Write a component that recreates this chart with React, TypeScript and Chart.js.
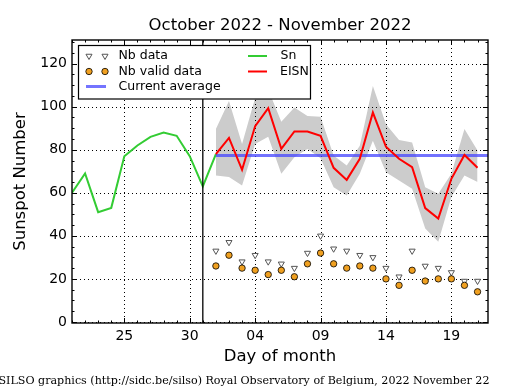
import React, { useEffect, useRef } from "react";
import { Chart, registerables } from "chart.js";

Chart.register(...registerables);

const TITLE = "October 2022 - November 2022";
const X_LABEL = "Day of month";
const Y_LABEL = "Sunspot Number";
const FOOTER = "SILSO graphics (http://sidc.be/silso) Royal Observatory of Belgium, 2022 November 22";

const ORIGIN = "2022-10-21";

const snDates = [
  "2022-10-21", "2022-10-22", "2022-10-23", "2022-10-24", "2022-10-25", "2022-10-26",
  "2022-10-27", "2022-10-28", "2022-10-29", "2022-10-30", "2022-10-31", "2022-11-01",
];
const snValues = [60, 69, 51, 53, 77, 82, 86, 88, 86.5, 77, 63, 78];

const eisnDates = [
  "2022-11-01", "2022-11-02", "2022-11-03", "2022-11-04", "2022-11-05", "2022-11-06", "2022-11-07",
  "2022-11-08", "2022-11-09", "2022-11-10", "2022-11-11", "2022-11-12", "2022-11-13", "2022-11-14",
  "2022-11-15", "2022-11-16", "2022-11-17", "2022-11-18", "2022-11-19", "2022-11-20", "2022-11-21",
];
const eisnValues = [78, 85.5, 70.7, 91, 99.3, 80.4, 88.5, 88.5, 86.5, 71.6, 66, 75.8, 97.3, 81.4, 75.8, 71.9, 52.9, 48, 66.5, 77.6, 71.6];
const eisnUpper = [89.6, 102.7, 82.7, 104, 108, 93, 99.6, 95.7, 95.3, 77.3, 72.7, 81.9, 109.6, 91.9, 84.5, 83.4, 62.6, 59.6, 68.8, 89.6, 79.6];
const eisnLower = [68, 67.3, 63.4, 82.7, 86, 68.8, 76.5, 80.4, 76, 62.6, 58.8, 68.8, 84.2, 69.6, 65.7, 61.9, 43.4, 37.2, 58, 68, 65];
const nbData = [33, 37, 28, 31, 28, 27, 25, 32, 40, 34, 33, 31, 30, 25, 21, 33, 26, 25, 23, 19, 19];
const nbValid = [26, 31, 25, 24, 22, 24, 21, 27, 32, 27, 25, 26, 25, 20, 17, 24, 19, 20, 20, 17, 14];

const currentAverage = 77.3;
const averageDates = ["2022-11-01", "2022-11-22"];
const splitDate = "2022-10-31";

const xTickDates = ["2022-10-25", "2022-10-30", "2022-11-04", "2022-11-09", "2022-11-14", "2022-11-19"];
const yTicks = [0, 20, 40, 60, 80, 100, 120];
const yMinorStep = 5;

const FONT = "'DejaVu Sans', sans-serif";

function dayIndex(d: string): number {
  return (Date.parse(d) - Date.parse(ORIGIN)) / 86400000;
}
function dayLabel(d: string): string {
  return d.slice(8, 10);
}

const xMin = 0;
const xMax = dayIndex("2022-11-21") + 0.8;
const yMin = -0.5;
const yMax = 131;

const C_GREEN = "#33cc33";
const C_RED = "#ff0000";
const C_BLUE = "rgba(70,70,255,0.75)";
const C_BAND = "#cccccc";
const C_ORANGE = "#f0a020";

function drawTriangleDown(ctx: CanvasRenderingContext2D, x: number, y: number, r: number) {
  const s = Math.sin(Math.PI / 3) * r;
  ctx.beginPath();
  ctx.moveTo(x, y + r);
  ctx.lineTo(x - s, y - r / 2);
  ctx.lineTo(x + s, y - r / 2);
  ctx.closePath();
  ctx.fillStyle = "#ffffff";
  ctx.fill();
  ctx.strokeStyle = "#555555";
  ctx.lineWidth = 1;
  ctx.stroke();
}
function drawCircle(ctx: CanvasRenderingContext2D, x: number, y: number, r: number) {
  ctx.beginPath();
  ctx.arc(x, y, r, 0, Math.PI * 2);
  ctx.fillStyle = C_ORANGE;
  ctx.fill();
  ctx.strokeStyle = "#000000";
  ctx.lineWidth = 0.8;
  ctx.stroke();
}

const silsoPlugin = {
  id: "silso",
  afterDatasetDraw(chart: any, args: any) {
    if (args.index !== 0) return;
    const { ctx, chartArea: a, scales } = chart;
    ctx.save();
    ctx.beginPath();
    ctx.rect(a.left, a.top, a.right - a.left, a.bottom - a.top);
    ctx.clip();
    ctx.setLineDash([1, 3]);
    ctx.strokeStyle = "#000000";
    ctx.lineWidth = 1;
    for (const d of xTickDates) {
      const x = Math.round(scales.x.getPixelForValue(dayIndex(d))) + 0.5;
      ctx.beginPath();
      ctx.moveTo(x, a.top);
      ctx.lineTo(x, a.bottom);
      ctx.stroke();
    }
    for (const v of yTicks) {
      const y = Math.round(scales.y.getPixelForValue(v)) + 0.5;
      ctx.beginPath();
      ctx.moveTo(a.left, y);
      ctx.lineTo(a.right, y);
      ctx.stroke();
    }
    ctx.restore();
  },
  afterDraw(chart: any) {
    const { ctx, chartArea: a, scales } = chart;
    const xs = scales.x;
    const ys = scales.y;
    ctx.save();

    // split line
    const sx = xs.getPixelForValue(dayIndex(splitDate));
    ctx.strokeStyle = "#000000";
    ctx.lineWidth = 1.3;
    ctx.beginPath();
    ctx.moveTo(sx, a.top);
    ctx.lineTo(sx, a.bottom);
    ctx.stroke();

    // ticks
    ctx.lineWidth = 1;
    const tick = (x1: number, y1: number, x2: number, y2: number) => {
      ctx.beginPath();
      ctx.moveTo(x1, y1);
      ctx.lineTo(x2, y2);
      ctx.stroke();
    };
    const majorX = xTickDates.map(dayIndex);
    for (let v = Math.ceil(xMin); v <= xMax; v++) {
      const x = Math.round(xs.getPixelForValue(v)) + 0.5;
      const len = majorX.includes(v) ? 5 : 2.5;
      tick(x, a.bottom, x, a.bottom - len);
      tick(x, a.top, x, a.top + len);
    }
    for (let v = 0; v <= yMax; v += yMinorStep) {
      const y = Math.round(ys.getPixelForValue(v)) + 0.5;
      const len = yTicks.includes(v) ? 5 : 2.5;
      tick(a.left, y, a.left + len, y);
      tick(a.right, y, a.right - len, y);
    }

    // frame
    ctx.lineWidth = 1.4;
    ctx.strokeRect(a.left, a.top, a.right - a.left, a.bottom - a.top);

    // legend
    const lx = 78.5, ly = 45.5, lw = 232, lh = 53.5;
    ctx.fillStyle = "#ffffff";
    ctx.fillRect(lx, ly, lw, lh);
    ctx.strokeStyle = "#000000";
    ctx.lineWidth = 1.2;
    ctx.strokeRect(lx, ly, lw, lh);
    ctx.font = `12.5px ${FONT}`;
    ctx.textBaseline = "middle";
    ctx.textAlign = "left";
    const r1 = 56, r2 = 71.5, r3 = 86.5;
    drawTriangleDown(ctx, 89, r1, 3.5);
    drawTriangleDown(ctx, 105, r1, 3.5);
    drawCircle(ctx, 89, r2, 3.2);
    drawCircle(ctx, 105, r2, 3.2);
    ctx.strokeStyle = C_BLUE;
    ctx.lineWidth = 3;
    ctx.beginPath();
    ctx.moveTo(86, r3);
    ctx.lineTo(106, r3);
    ctx.stroke();
    ctx.strokeStyle = C_GREEN;
    ctx.lineWidth = 2;
    ctx.beginPath();
    ctx.moveTo(248, r1);
    ctx.lineTo(267, r1);
    ctx.stroke();
    ctx.strokeStyle = C_RED;
    ctx.beginPath();
    ctx.moveTo(248, r2);
    ctx.lineTo(267, r2);
    ctx.stroke();
    ctx.fillStyle = "#000000";
    ctx.fillText("Nb data", 118.5, r1);
    ctx.fillText("Nb valid data", 118.5, r2);
    ctx.fillText("Current average", 118.5, r3);
    ctx.fillText("Sn", 280.5, r1);
    ctx.fillText("EISN", 280, r2);

    // title & labels
    const cx = (a.left + a.right) / 2;
    ctx.textAlign = "center";
    ctx.font = `16.5px ${FONT}`;
    ctx.fillText(TITLE, cx, 26);
    ctx.fillText(X_LABEL, cx, 357);
    ctx.save();
    ctx.translate(21, (a.top + a.bottom) / 2);
    ctx.rotate(-Math.PI / 2);
    ctx.fillText(Y_LABEL, 0, 0);
    ctx.restore();

    // footer
    ctx.textAlign = "left";
    ctx.font = `11.1px 'DejaVu Serif', serif`;
    ctx.fillText(FOOTER, -1.5, 381);

    ctx.restore();
  },
};

export default function App() {
  const ref = useRef<HTMLCanvasElement | null>(null);

  useEffect(() => {
    const canvas = ref.current;
    if (!canvas) return;
    const pts = (dates: string[], vals: number[]) => dates.map((d, i) => ({ x: dayIndex(d), y: vals[i] }));

    const chart = new Chart(canvas, {
      type: "line",
      data: {
        datasets: [
          {
            label: "EISN upper",
            data: pts(eisnDates, eisnUpper),
            borderWidth: 0,
            borderColor: "rgba(0,0,0,0)",
            backgroundColor: C_BAND,
            pointRadius: 0,
            fill: "+1",
            order: 10,
          },
          {
            label: "EISN lower",
            data: pts(eisnDates, eisnLower),
            borderWidth: 0,
            borderColor: "rgba(0,0,0,0)",
            pointRadius: 0,
            fill: false,
            order: 11,
          },
          {
            label: "Sn",
            data: pts(snDates, snValues),
            borderColor: C_GREEN,
            borderWidth: 2,
            pointRadius: 0,
            fill: false,
            order: 6,
          },
          {
            label: "Current average",
            data: averageDates.map((d) => ({ x: dayIndex(d), y: currentAverage })),
            borderColor: C_BLUE,
            borderWidth: 3,
            pointRadius: 0,
            fill: false,
            order: 5,
          },
          {
            label: "EISN",
            data: pts(eisnDates, eisnValues),
            borderColor: C_RED,
            borderWidth: 2,
            pointRadius: 0,
            fill: false,
            order: 4,
          },
          {
            label: "Nb data",
            data: pts(eisnDates, nbData),
            showLine: false,
            pointStyle: "triangle",
            rotation: 180,
            pointRadius: 3.5,
            pointBackgroundColor: "#ffffff",
            pointBorderColor: "#555555",
            pointBorderWidth: 1,
            order: 2,
          },
          {
            label: "Nb valid data",
            data: pts(eisnDates, nbValid),
            showLine: false,
            pointStyle: "circle",
            pointRadius: 3.2,
            pointBackgroundColor: C_ORANGE,
            pointBorderColor: "#000000",
            pointBorderWidth: 0.8,
            order: 1,
          },
        ],
      },
      options: {
        responsive: false,
        animation: false,
        devicePixelRatio: 1,
        layout: { padding: { left: 0, top: 40, right: 27, bottom: 27 } },
        plugins: {
          legend: { display: false },
          tooltip: { enabled: false },
          title: { display: false },
        },
        elements: { line: { tension: 0 } },
        scales: {
          x: {
            type: "linear",
            min: xMin,
            max: xMax,
            grid: { display: false, drawTicks: false },
            border: { display: false },
            afterBuildTicks: (s: any) => {
              s.ticks = xTickDates.map((d) => ({ value: dayIndex(d) }));
            },
            afterFit: (s: any) => {
              s.height = 40;
            },
            ticks: {
              color: "#000000",
              font: { family: FONT, size: 14 },
              padding: 5,
              maxRotation: 0,
              autoSkip: false,
              callback: (v: any) => {
                const i = xTickDates.findIndex((d) => dayIndex(d) === v);
                return i >= 0 ? dayLabel(xTickDates[i]) : "";
              },
            },
          },
          y: {
            type: "linear",
            min: yMin,
            max: yMax,
            grid: { display: false, drawTicks: false },
            border: { display: false },
            afterBuildTicks: (s: any) => {
              s.ticks = yTicks.map((v) => ({ value: v }));
            },
            afterFit: (s: any) => {
              s.width = 72;
            },
            ticks: {
              color: "#000000",
              font: { family: FONT, size: 14 },
              padding: 5,
              autoSkip: false,
              callback: (v: any) => String(v),
            },
          },
        },
      },
      plugins: [silsoPlugin],
    } as any);

    return () => chart.destroy();
  }, []);

  return (
    <div style={{ position: "absolute", left: 0, top: 0, width: 515, height: 390, background: "#ffffff" }}>
      <canvas ref={ref} width={515} height={390} style={{ display: "block" }} />
    </div>
  );
}
